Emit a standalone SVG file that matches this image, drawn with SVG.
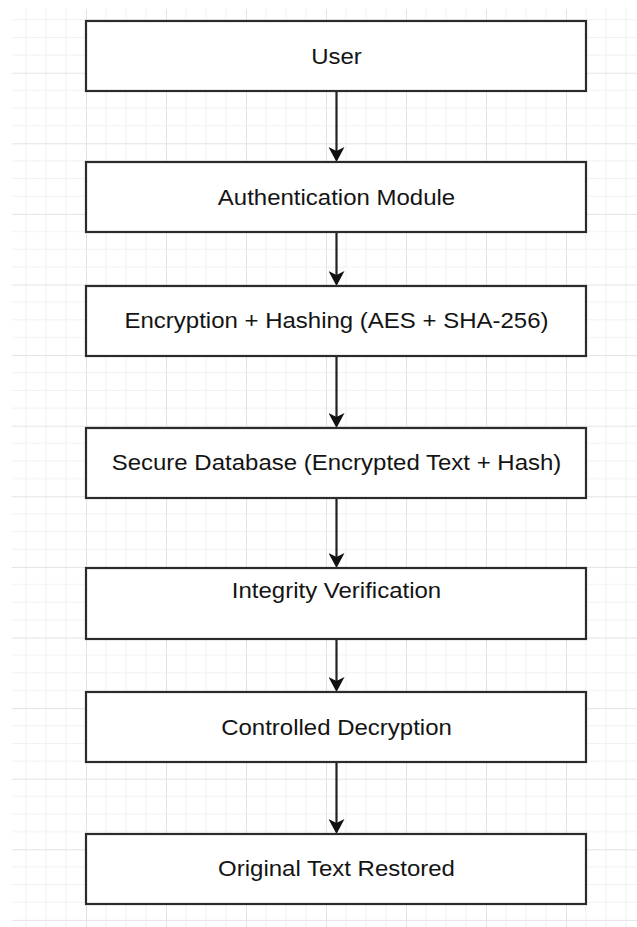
<svg xmlns="http://www.w3.org/2000/svg" width="637" height="927" viewBox="0 0 637 927">
  <style>
    .box { fill: #ffffff; stroke: #2b2b2b; stroke-width: 2.2; }
    .label { font-family: "Liberation Sans", Arial, sans-serif; font-size: 24px; fill: #141414; text-anchor: middle; }
    .edge { stroke: #222222; stroke-width: 2.2; fill: none; marker-end: url(#arrow); }
    .minor { stroke: #f1f1f1; stroke-width: 1; }
    .major { stroke: #e3e3e3; stroke-width: 1; }
  </style>
  <defs>
    <!-- canvas grid: 4 minor cells per major cell -->
    <pattern id="grid" patternUnits="userSpaceOnUse" x="6" y="2.1" width="80" height="70.6">
      <line class="minor" x1="20" y1="0" x2="20" y2="70.6"/>
      <line class="minor" x1="40" y1="0" x2="40" y2="70.6"/>
      <line class="minor" x1="60" y1="0" x2="60" y2="70.6"/>
      <line class="minor" x1="0" y1="17.65" x2="80" y2="17.65"/>
      <line class="minor" x1="0" y1="35.3" x2="80" y2="35.3"/>
      <line class="minor" x1="0" y1="52.95" x2="80" y2="52.95"/>
      <line class="major" x1="0.5" y1="0" x2="0.5" y2="70.6"/>
      <line class="major" x1="0" y1="0.5" x2="80" y2="0.5"/>
    </pattern>
    <!-- classic notched arrowhead -->
    <marker id="arrow" markerUnits="userSpaceOnUse" viewBox="0 0 16 16" markerWidth="16" markerHeight="16" refX="5" refY="8" orient="auto">
      <path d="M0,0 L15,8 L0,16 L4,8 Z" fill="#111111"/>
    </marker>
  </defs>

  <rect x="0" y="0" width="637" height="927" fill="#ffffff"/>
  <rect x="12" y="9" width="625" height="918" fill="url(#grid)"/>

  <g id="connectors">
    <line class="edge" x1="336.5" y1="92" x2="336.5" y2="152"/>
    <line class="edge" x1="336.5" y1="233" x2="336.5" y2="276"/>
    <line class="edge" x1="336.5" y1="357" x2="336.5" y2="418"/>
    <line class="edge" x1="336.5" y1="499" x2="336.5" y2="558"/>
    <line class="edge" x1="336.5" y1="640" x2="336.5" y2="682"/>
    <line class="edge" x1="336.5" y1="763" x2="336.5" y2="824"/>
  </g>

  <g id="user">
    <rect class="box" x="86" y="21" width="500" height="70"/>
    <text class="label" transform="translate(336.5,64) scale(1,0.8825)">User</text>
  </g>
  <g id="authentication">
    <rect class="box" x="86" y="162" width="500" height="70"/>
    <text class="label" transform="translate(336.5,205) scale(1,0.8825)">Authentication Module</text>
  </g>
  <g id="encryption">
    <rect class="box" x="86" y="286" width="500" height="70"/>
    <text class="label" transform="translate(336.5,328) scale(1,0.8825)">Encryption + Hashing (AES + SHA-256)</text>
  </g>
  <g id="database">
    <rect class="box" x="86" y="428" width="500" height="70"/>
    <text class="label" transform="translate(336.5,470) scale(1,0.8825)">Secure Database (Encrypted Text + Hash)</text>
  </g>
  <g id="integrity">
    <rect class="box" x="86" y="568" width="500" height="71"/>
    <text class="label" transform="translate(336.5,598) scale(1,0.8825)">Integrity Verification</text>
  </g>
  <g id="decryption">
    <rect class="box" x="86" y="692" width="500" height="70"/>
    <text class="label" transform="translate(336.5,735) scale(1,0.8825)">Controlled Decryption</text>
  </g>
  <g id="restored">
    <rect class="box" x="86" y="834" width="500" height="70"/>
    <text class="label" transform="translate(336.5,876) scale(1,0.8825)">Original Text Restored</text>
  </g>
</svg>
